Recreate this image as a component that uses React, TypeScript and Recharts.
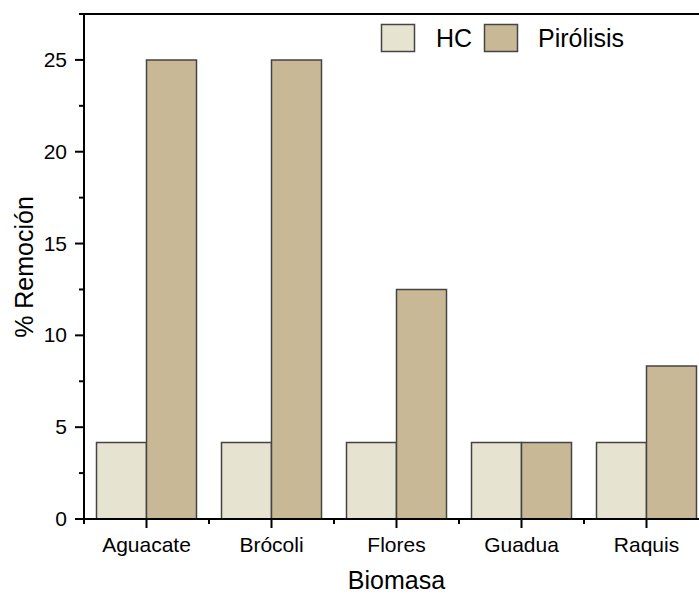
import { BarChart, Bar, XAxis, YAxis } from "recharts";

const categories = ["Aguacate", "Brócoli", "Flores", "Guadua", "Raquis"];
const hcValues = [4.17, 4.17, 4.17, 4.17, 4.17];
const pirolisisValues = [25, 25, 12.5, 4.17, 8.33];
const yTicks = [0, 2.5, 5, 7.5, 10, 12.5, 15, 17.5, 20, 22.5, 25, 27.5];
const yMajor = [0, 5, 10, 15, 20, 25];
const yMax = 27.5;

const HC_FILL = "#E6E3D0";
const PIR_FILL = "#C8B896";
const EDGE = "#444444";
const FONT = "'Liberation Sans', Arial, sans-serif";

const CHART_W = 720;
const CHART_H = 595;
const margin = { top: 14, right: 11, bottom: 0, left: 0 };
const Y_AXIS_W = 84;
const X_AXIS_H = 76;
const BAND = (CHART_W - margin.right - Y_AXIS_W) / categories.length;

const data = categories.map((name, i) => ({
  name,
  hc: hcValues[i],
  pir: pirolisisValues[i],
}));

const XTick = (props: any) => {
  const { x, y, payload } = props;
  return (
    <g>
      <line x1={x} y1={y} x2={x} y2={y + 9} stroke="#000" strokeWidth={2} />
      <line x1={x - BAND / 2} y1={y} x2={x - BAND / 2} y2={y + 5} stroke="#000" strokeWidth={2} />
      <line x1={x + BAND / 2} y1={y} x2={x + BAND / 2} y2={y + 5} stroke="#000" strokeWidth={2} />
      <text x={x} y={y + 33} textAnchor="middle" fontSize={21} fontFamily={FONT} fill="#000">
        {payload.value}
      </text>
    </g>
  );
};

const YTick = (props: any) => {
  const { x, y, payload } = props;
  const major = yMajor.includes(payload.value);
  return (
    <g>
      <line x1={x - (major ? 9 : 5)} y1={y} x2={x} y2={y} stroke="#000" strokeWidth={2} />
      {major && (
        <text x={x - 17} y={y + 7} textAnchor="end" fontSize={21} fontFamily={FONT} fill="#000">
          {payload.value}
        </text>
      )}
    </g>
  );
};

// legend and top frame line of the plot box
const Overlay = () => {
  const items = [
    { label: "HC", fill: HC_FILL, x: 381, tx: 436 },
    { label: "Pirólisis", fill: PIR_FILL, x: 484, tx: 538 },
  ];
  return (
    <svg width={CHART_W} height={60} style={{ position: "absolute", left: 0, top: 0 }}>
      <line
        x1={Y_AXIS_W - 1}
        y1={margin.top}
        x2={CHART_W - margin.right + 1}
        y2={margin.top}
        stroke="#000"
        strokeWidth={2}
      />
      {items.map((it) => (
        <g key={it.label}>
          <rect x={it.x + 0.5} y={24.5} width={33} height={27} fill={it.fill} stroke={EDGE} strokeWidth={1.5} />
          <text x={it.tx} y={47} fontSize={25} fontFamily={FONT} fill="#000">
            {it.label}
          </text>
        </g>
      ))}
    </svg>
  );
};

export default function App() {
  return (
    <div
      style={{
        position: "absolute",
        left: 0,
        top: 0,
        width: 699,
        height: 595,
        overflow: "hidden",
        background: "#fff",
      }}
    >
      <BarChart
        width={CHART_W}
        height={CHART_H}
        data={data}
        margin={margin}
        barCategoryGap="10%"
        barGap={0}
      >
        <XAxis
          dataKey="name"
          height={X_AXIS_H}
          tickSize={0}
          tickMargin={0}
          tickLine={false}
          axisLine={{ stroke: "#000", strokeWidth: 2 }}
          tick={<XTick />}
          interval={0}
          label={({ viewBox }: any) => (
            <text
              x={viewBox.x + viewBox.width / 2}
              y={589}
              textAnchor="middle"
              fontSize={25}
              fontFamily={FONT}
              fill="#000"
            >
              Biomasa
            </text>
          )}
        />
        <YAxis
          width={Y_AXIS_W}
          domain={[0, yMax]}
          ticks={yTicks}
          interval={0}
          tickSize={0}
          tickMargin={0}
          tickLine={false}
          axisLine={{ stroke: "#000", strokeWidth: 2 }}
          tick={<YTick />}
          label={() => (
            <text
              x={33}
              y={267}
              transform="rotate(-90, 33, 267)"
              textAnchor="middle"
              fontSize={25}
              fontFamily={FONT}
              fill="#000"
            >
              % Remoción
            </text>
          )}
        />
        <Bar dataKey="hc" name="HC" fill={HC_FILL} stroke={EDGE} strokeWidth={1.5} isAnimationActive={false} />
        <Bar dataKey="pir" name="Pirólisis" fill={PIR_FILL} stroke={EDGE} strokeWidth={1.5} isAnimationActive={false} />
      </BarChart>
      <Overlay />
    </div>
  );
}
